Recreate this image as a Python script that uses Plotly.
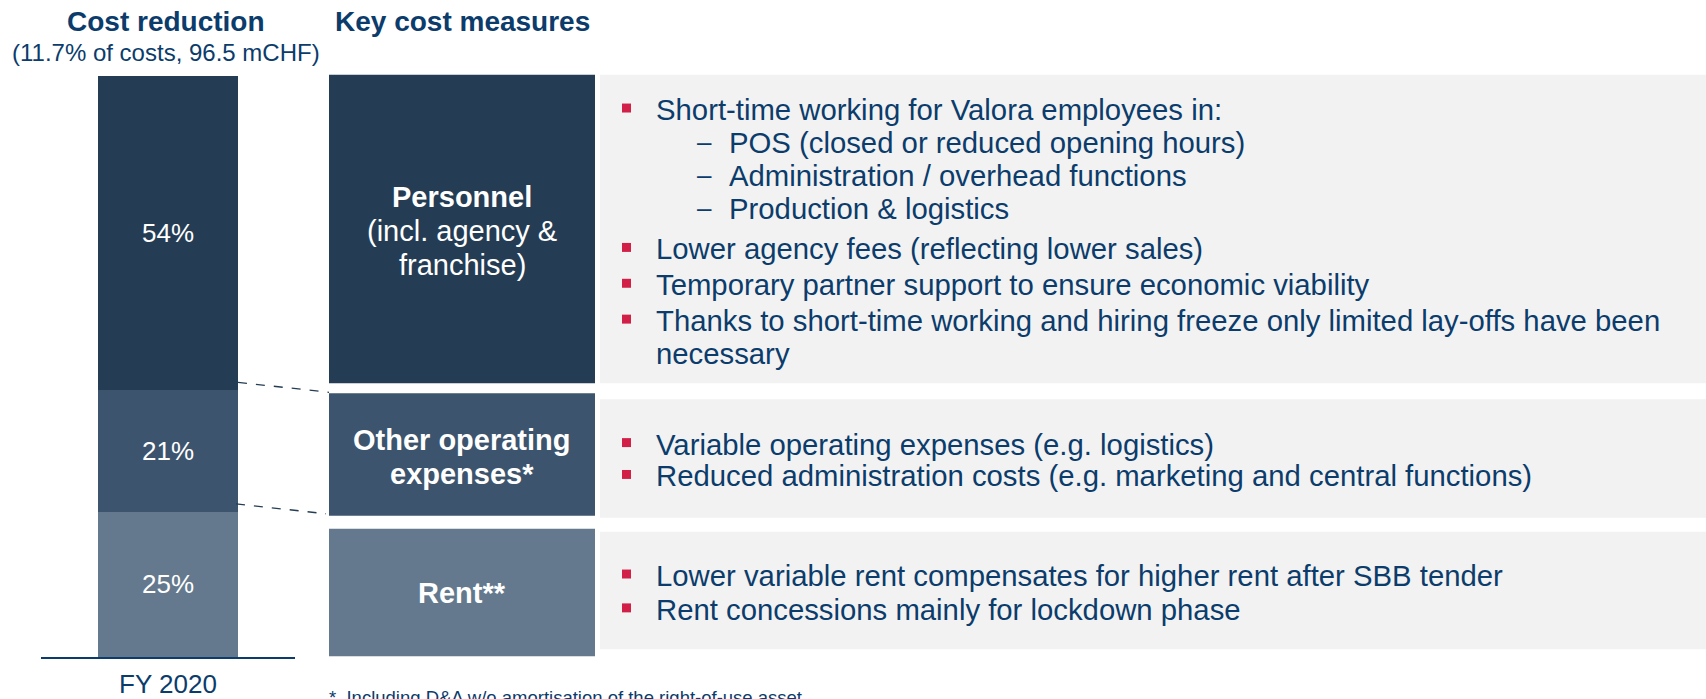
import plotly.graph_objects as go

# ---------------- data ----------------
segments = ["Rent", "Other operating expenses", "Personnel"]
shares = [25, 21, 54]
share_labels = ["25%", "21%", "54%"]
period = ["FY 2020"]

heading_left = "Cost reduction"
subheading_left = "(11.7% of costs, 96.5 mCHF)"
heading_right = "Key cost measures"

box_titles = [
    ["<b>Personnel</b>", "(incl. agency &", "franchise)"],
    ["<b>Other operating</b>", "<b>expenses*</b>"],
    ["<b>Rent**</b>"],
]

personnel_lines = [
    ("b", "Short-time working for Valora employees in:"),
    ("d", "POS (closed or reduced opening hours)"),
    ("d", "Administration / overhead functions"),
    ("d", "Production & logistics"),
    ("b", "Lower agency fees (reflecting lower sales)"),
    ("b", "Temporary partner support to ensure economic viability"),
    ("b", "Thanks to short-time working and hiring freeze only limited lay-offs have been"),
    ("c", "necessary"),
]
opex_lines = [
    ("b", "Variable operating expenses (e.g. logistics)"),
    ("b", "Reduced administration costs (e.g. marketing and central functions)"),
]
rent_lines = [
    ("b", "Lower variable rent compensates for higher rent after SBB tender"),
    ("b", "Rent concessions mainly for lockdown phase"),
]
footnote = "*  Including D&A w/o amortisation of the right-of-use asset"

# ---------------- styles / layout ----------------
W, H = 1706, 699
FONT = "Arial, Liberation Sans, sans-serif"
NAVY = "#0B3C6B"
RED = "#D21F47"
GREY = "#F2F2F2"
seg_colors = ["#64798D", "#3C546D", "#243D55"]
BODY = 29.3


def px(x):
    return x / W


def py(y):
    return 1 - y / H


fig = go.Figure()

for name, val, lab, col in zip(segments, shares, share_labels, seg_colors):
    fig.add_trace(go.Bar(
        x=period, y=[val], name=name, text=[lab],
        marker=dict(color=col, line=dict(width=0)),
        textposition="inside", insidetextanchor="middle",
        textfont=dict(family=FONT, size=26, color="white"),
        width=0.555, hoverinfo="skip", showlegend=False,
    ))

fig.update_layout(
    barmode="stack",
    width=W, height=H,
    margin=dict(l=0, r=0, t=0, b=0),
    paper_bgcolor="white", plot_bgcolor="white",
    font=dict(family=FONT, color=NAVY),
    uniformtext=dict(minsize=26, mode="show"),
    xaxis=dict(domain=[px(41), px(295)], type="category",
               showline=True, linecolor=NAVY, linewidth=2,
               ticks="", showgrid=False, zeroline=False,
               ticklabelstandoff=3,
               tickfont=dict(family=FONT, size=26, color=NAVY)),
    yaxis=dict(domain=[py(660), py(76)], range=[0, 100], visible=False,
               showgrid=False, zeroline=False),
)

shapes = []
annotations = []


def rect(x0, y0, x1, y1, color):
    shapes.append(dict(type="rect", xref="paper", yref="paper",
                       x0=px(x0), x1=px(x1), y0=py(y1), y1=py(y0),
                       fillcolor=color, line=dict(width=0), layer="below"))


def text(t, x, y, size, color=NAVY, xanchor="left", yanchor="middle", align="left"):
    annotations.append(dict(text=t, x=px(x), y=py(y), xref="paper", yref="paper",
                            xanchor=xanchor, yanchor=yanchor, align=align,
                            showarrow=False,
                            font=dict(family=FONT, size=size, color=color)))


# category boxes and grey panels
boxes = [(75, 385), (395, 518), (531, 659)]
panels = [(75, 385), (401, 520), (534, 652)]
for (y0, y1), col in zip(boxes, seg_colors[::-1]):
    rect(329, y0, 595, y1, col)
for (y0, y1) in panels:
    rect(600, y0, W, y1, GREY)

label_y = [[198, 232, 266], [442, 476], [596]]
for lines, ys in zip(box_titles, label_y):
    for t, y in zip(lines, ys):
        text(t, 462, y, 29, color="white", xanchor="center", align="center")

# dashed connectors
for (a, b) in [((238, 384), (329, 394)), ((236, 506), (326, 516))]:
    shapes.append(dict(type="line", xref="paper", yref="paper",
                       x0=px(a[0]), y0=py(a[1]), x1=px(b[0]), y1=py(b[1]),
                       line=dict(color="#243D55", width=1.3, dash="dash")))

# bullet lines
line_y = {
    "personnel": [110, 143, 176, 209, 250, 286, 322, 355],
    "opex": [446, 478],
    "rent": [578, 612],
}
for key, lines in [("personnel", personnel_lines), ("opex", opex_lines), ("rent", rent_lines)]:
    for (kind, t), y in zip(lines, line_y[key]):
        if kind == "b":
            shapes.append(dict(type="rect", xref="paper", yref="paper",
                               x0=px(622), x1=px(631), y0=py(y + 3), y1=py(y - 6),
                               fillcolor=RED, line=dict(width=0)))
            text(t, 654, y, BODY)
        elif kind == "d":
            text("–", 695, y, 26)
            text(t, 727, y, BODY)
        else:
            text(t, 654, y, BODY)

# headings
text("<b>" + heading_left + "</b>", 166, 22, 28, xanchor="center")
text(subheading_left, 166, 53, 24, xanchor="center")
text("<b>" + heading_right + "</b>", 333, 22, 28)
text(footnote, 327, 688, 18.5, yanchor="top")

fig.update_layout(shapes=shapes, annotations=annotations)

fig.write_html("out.html", config={"displayModeBar": False},
               post_script="document.body.style.margin='0';document.body.style.overflow='hidden';")
